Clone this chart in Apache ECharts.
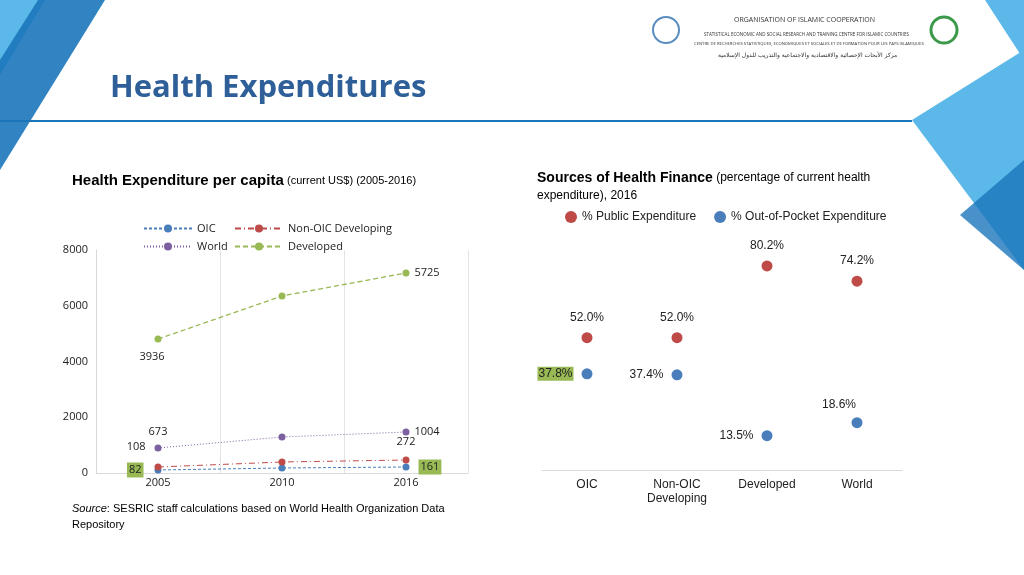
<!DOCTYPE html>
<html><head><meta charset="utf-8">
<script src="https://cdn.jsdelivr.net/npm/echarts@6/dist/echarts.min.js"></script>
<style>html,body{margin:0;padding:0;background:#fff}#c{width:1024px;height:575px}</style>
</head><body><div id="c"></div>
<script>
// left chart data (positions; labels as printed)
var years = ['2005', '2010', '2016'];
var oic = [108, 180, 215];
var nonOic = [215, 395, 466];
var world = [897, 1291, 1471];
var developed = [4807, 6350, 7175];
var oicLabels = ['82', '', '161'];
var nonOicLabels = ['108', '', '272'];
var worldLabels = ['673', '', '1004'];
var developedLabels = ['3936', '', '5725'];
// right chart data
var groups = ['OIC', 'Non-OIC\nDeveloping', 'Developed', 'World'];
var publicExp = [52.0, 52.0, 80.2, 74.2];
var oopExp = [37.8, 37.4, 13.5, 18.6];

var blue = '#4a7ebb', red = '#be4b48', purple = '#7d60a0', green = '#98b954';
var lab = {fontFamily: 'Open Sans', fontSize: 11, color: '#222'};

function pts(vals, labels, opts) {
  return vals.map(function (v, i) {
    var o = {value: v};
    if (labels[i]) o.label = Object.assign({show: true, formatter: labels[i]}, lab, opts[i] || {});
    return o;
  });
}

function leftLegend(name, x, y) {
  return {left: x, top: y, itemWidth: 48, itemHeight: 10, data: [name],
    textStyle: {fontFamily: 'Open Sans', fontSize: 11, color: '#222'}};
}

var chart = echarts.init(document.getElementById('c'));
chart.setOption({
  animation: false,
  graphic: [
    {type: 'polygon', shape: {points: [[0, 0], [45, 0], [0, 75]]}, style: {fill: '#5bb8e8'}},
    {type: 'polygon', shape: {points: [[0, 60], [38, 0], [105, 0], [0, 170]]}, style: {fill: '#1b75bb', opacity: 0.9}},
    {type: 'polygon', shape: {points: [[1024, 0], [1024, 60], [985, 0]]}, style: {fill: '#5bb8e8'}},
    {type: 'polygon', shape: {points: [[1024, 50], [1024, 270], [912, 120]]}, style: {fill: '#5bb8e8'}},
    {type: 'polygon', shape: {points: [[1024, 160], [1024, 270], [960, 215]]}, style: {fill: '#1b75bb', opacity: 0.8}},
    {type: 'rect', shape: {x: 0, y: 120, width: 912, height: 2}, style: {fill: '#1b75bb'}},
    {type: 'text', left: 110, top: 73, style: {text: 'Health Expenditures', font: 'bold 31px "Open Sans"', fill: '#2e5f99'}},
    {type: 'text', left: 734, top: 16, style: {text: 'ORGANISATION OF ISLAMIC COOPERATION', font: '7px "Open Sans"', fill: '#333'}},
    {type: 'text', left: 704, top: 32, style: {text: 'STATISTICAL ECONOMIC AND SOCIAL RESEARCH AND TRAINING CENTRE FOR ISLAMIC COUNTRIES', font: '4.5px "Open Sans"', fill: '#333'}},
    {type: 'text', left: 694, top: 42, style: {text: 'CENTRE DE RECHERCHES STATISTIQUES, ECONOMIQUES ET SOCIALES ET DE FORMATION POUR LES PAYS ISLAMIQUES', font: '4.2px "Open Sans"', fill: '#333'}},
    {type: 'text', left: 718, top: 52, style: {text: 'مركز الأبحاث الإحصائية والاقتصادية والاجتماعية والتدريب للدول الإسلامية', font: '6px "DejaVu Sans"', fill: '#333'}},
    {type: 'circle', shape: {cx: 666, cy: 30, r: 13}, style: {fill: 'none', stroke: '#5a8cc0', lineWidth: 2}},
    {type: 'circle', shape: {cx: 944, cy: 30, r: 13}, style: {fill: 'none', stroke: '#3a9a4a', lineWidth: 3}},
    {type: 'text', left: 72, top: 173, style: {rich: {a: {font: 'bold 15px "Liberation Sans"', fill: '#000'}, b: {font: '11px "Liberation Sans"', fill: '#000'}}, text: '{a|Health Expenditure per capita} {b|(current US$) (2005-2016)}'}},
    {type: 'text', left: 537, top: 171, style: {rich: {a: {font: 'bold 14px "Liberation Sans"', fill: '#000'}, b: {font: '12px "Liberation Sans"', fill: '#000', lineHeight: 18}}, text: '{a|Sources of Health Finance} {b|(percentage of current health}\n{b|expenditure), 2016}'}},
    {type: 'text', left: 72, top: 503, style: {rich: {i: {font: 'italic 11px "Liberation Sans"', fill: '#000', lineHeight: 16}, n: {font: '11px "Liberation Sans"', fill: '#000', lineHeight: 16}}, text: '{i|Source}{n|: SESRIC staff calculations based on World Health Organization Data}\n{n|Repository}'}}
  ],
  legend: [
    leftLegend('OIC', 138, 218),
    leftLegend('Non-OIC Developing', 229, 218),
    leftLegend('World', 138, 236),
    leftLegend('Developed', 229, 236),
    {left: 560, top: 206, itemGap: 18, itemWidth: 12, itemHeight: 12,
     textStyle: {fontFamily: 'Liberation Sans', fontSize: 12, color: '#222'},
     data: [{name: '% Public Expenditure', icon: 'circle'}, {name: '% Out-of-Pocket Expenditure', icon: 'circle'}]}
  ],
  grid: [
    {left: 96, top: 250, width: 372, height: 223},
    {left: 542, top: 241, width: 360, height: 229}
  ],
  xAxis: [
    {gridIndex: 0, type: 'category', data: years, axisTick: {show: false},
     axisLine: {lineStyle: {color: '#d9d9d9'}}, splitLine: {show: true, lineStyle: {color: '#e3e3e3'}},
     axisLabel: {fontFamily: 'Open Sans', fontSize: 11, color: '#222', margin: 4}},
    {gridIndex: 1, type: 'category', data: groups, axisTick: {show: false},
     axisLine: {lineStyle: {color: '#d9d9d9'}},
     axisLabel: {fontFamily: 'Liberation Sans', fontSize: 12, color: '#222', margin: 8, lineHeight: 14}}
  ],
  yAxis: [
    {gridIndex: 0, min: 0, max: 8000, interval: 2000, splitLine: {show: false},
     axisLine: {show: true, lineStyle: {color: '#d9d9d9'}},
     axisLabel: {fontFamily: 'Open Sans', fontSize: 11, color: '#222', formatter: function (v) { return String(v); }}},
    {gridIndex: 1, min: 0, max: 90, show: false}
  ],
  series: [
    {name: 'OIC', type: 'line', xAxisIndex: 0, yAxisIndex: 0, symbol: 'circle', symbolSize: 7,
     itemStyle: {color: blue}, lineStyle: {color: blue, width: 1, type: [3, 2]},
     data: pts(oic, oicLabels, [{position: 'left', backgroundColor: green, padding: [2, 2], offset: [-6, 0]}, {},
                               {position: 'right', backgroundColor: green, padding: [2, 2], offset: [4, 0]}])},
    {name: 'Non-OIC Developing', type: 'line', xAxisIndex: 0, yAxisIndex: 0, symbol: 'circle', symbolSize: 7,
     itemStyle: {color: red}, lineStyle: {color: red, width: 1, type: [6, 3, 1, 3]},
     data: pts(nonOic, nonOicLabels, [{position: 'left', offset: [-4, -20]}, {}, {position: 'top', offset: [0, -4]}])},
    {name: 'World', type: 'line', xAxisIndex: 0, yAxisIndex: 0, symbol: 'circle', symbolSize: 7,
     itemStyle: {color: purple}, lineStyle: {color: purple, width: 1, type: [1, 2]},
     data: pts(world, worldLabels, [{position: 'top', offset: [0, -2]}, {}, {position: 'right'}])},
    {name: 'Developed', type: 'line', xAxisIndex: 0, yAxisIndex: 0, symbol: 'circle', symbolSize: 7,
     itemStyle: {color: green}, lineStyle: {color: green, width: 1.3, type: [5, 3]},
     data: pts(developed, developedLabels, [{position: 'bottom', offset: [-6, 4]}, {}, {position: 'right'}])},
    {name: '% Public Expenditure', type: 'scatter', xAxisIndex: 1, yAxisIndex: 1, symbolSize: 11,
     itemStyle: {color: red, opacity: 1},
     label: Object.assign({show: true, position: 'top', distance: 9, formatter: function (p) { return p.value.toFixed(1) + '%'; }}, lab, {fontFamily: 'Liberation Sans', fontSize: 12}),
     data: publicExp},
    {name: '% Out-of-Pocket Expenditure', type: 'scatter', xAxisIndex: 1, yAxisIndex: 1, symbolSize: 11,
     itemStyle: {color: blue, opacity: 1},
     label: Object.assign({show: true, position: 'left', distance: 8, formatter: function (p) { return p.value.toFixed(1) + '%'; }}, lab, {fontFamily: 'Liberation Sans', fontSize: 12}),
     data: oopExp.map(function (v, i) {
       if (i === 0) return {value: v, label: {backgroundColor: green, padding: [1, 1]}};
       if (i === 3) return {value: v, label: {position: 'top', offset: [-18, 2]}};
       return v;
     })}
  ]
});
</script></body></html>
